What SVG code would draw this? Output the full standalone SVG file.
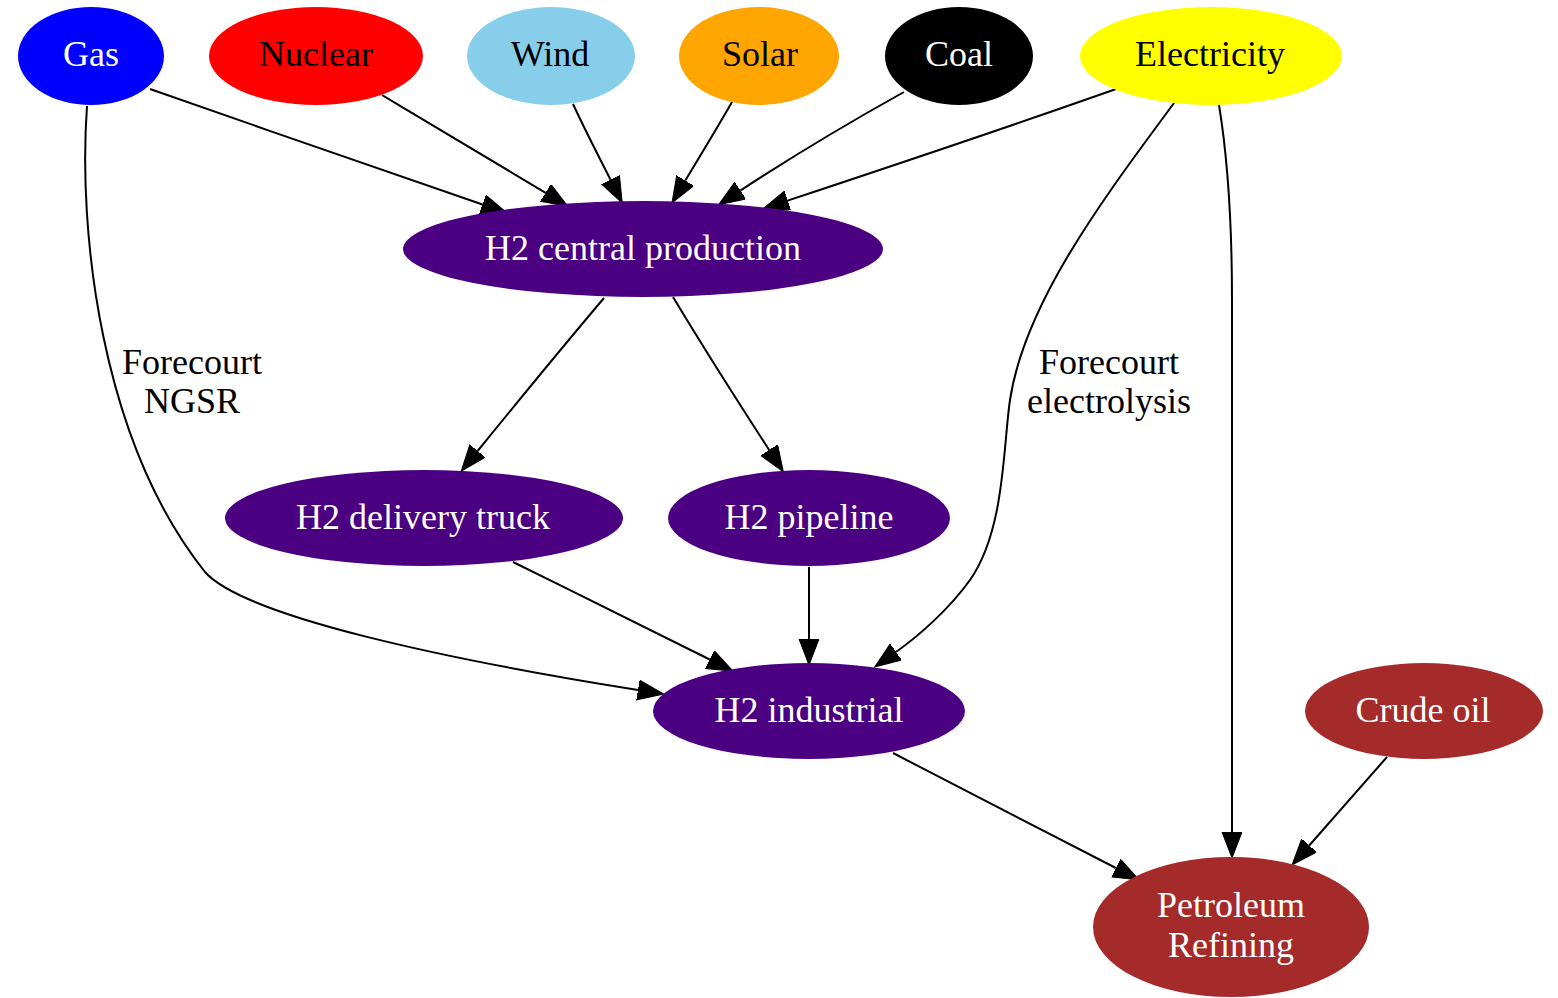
<svg xmlns="http://www.w3.org/2000/svg" width="1558" height="998" viewBox="0 0 1558 998">
<style>
text{font-family:'Liberation Serif','Times New Roman','DejaVu Serif',serif;font-size:36px;text-anchor:middle}
.w{fill:#ffffff}.k{fill:#000000}
.e{fill:none;stroke:#000;stroke-width:2;marker-end:url(#ah)}
</style>
<defs>
<marker id="ah" markerUnits="userSpaceOnUse" markerWidth="28" markerHeight="22" refX="0" refY="10" orient="auto" viewBox="0 0 28 22">
<path d="M0,0 L26,10 L0,20 z" fill="#000" stroke="#000" stroke-width="1"/>
</marker>
</defs>
<rect width="1558" height="998" fill="#ffffff"/>
<g id="connectors">
<path class="e" d="M150,89 C260,128 390,172 482.5,204.5"/>
<path class="e" d="M382,95 C440,130 500,165 545.6,192.8"/>
<path class="e" d="M573,104 C585,130 598,155 610.5,179.7"/>
<path class="e" d="M732,102 C716,130 700,156 685.3,180.6"/>
<path class="e" d="M904,92 C850,122 790,158 740.3,190.6"/>
<path class="e" d="M1116,89 C1000,130 880,170 787.6,200.6"/>
<path class="e" d="M604,298 C560,350 515,405 477.6,451"/>
<path class="e" d="M673,297 C705,350 740,405 769.2,450"/>
<path class="e" d="M513,562 C580,595 650,630 709.7,659.5"/>
<path class="e" d="M809,567 L809,639"/>
<path class="e" d="M1174,103 C1110,190 1025,300 1010,400 C1003,447 1005,530 970,580 C950,608 920,635 896,652"/>
<path class="e" d="M87,106 C78,230 100,440 205,572 C245,617 450,660 638,690"/>
<path class="e" d="M893,753 C970,793 1050,834 1115.9,868"/>
<path class="e" d="M1219,105 C1228,160 1232,220 1232,300 L1232,832"/>
<path class="e" d="M1387,757 L1309.2,845.5"/>
<text class="k" x="192" y="374">Forecourt</text>
<text class="k" x="192" y="413">NGSR</text>
<text class="k" x="1109" y="374">Forecourt</text>
<text class="k" x="1109" y="413">electrolysis</text>
</g>
<g id="gas"><ellipse cx="91" cy="56" rx="73" ry="49" fill="#0000ff"/><text class="w" x="91" y="66">Gas</text></g>
<g id="nuclear"><ellipse cx="316" cy="56" rx="107" ry="49" fill="#ff0000"/><text class="k" x="316" y="66">Nuclear</text></g>
<g id="wind"><ellipse cx="551" cy="56" rx="84" ry="49" fill="#87ceeb"/><text class="k" x="550" y="66">Wind</text></g>
<g id="solar"><ellipse cx="759" cy="56" rx="80" ry="49" fill="#ffa500"/><text class="k" x="760" y="66">Solar</text></g>
<g id="coal"><ellipse cx="959" cy="56" rx="74" ry="49" fill="#000000"/><text class="w" x="959" y="66">Coal</text></g>
<g id="electricity"><ellipse cx="1211" cy="56" rx="131" ry="49" fill="#ffff00"/><text class="k" x="1210" y="66">Electricity</text></g>
<g id="h2central"><ellipse cx="643" cy="249" rx="240" ry="48" fill="#4b0082"/><text class="w" x="643" y="260">H2 central production</text></g>
<g id="h2truck"><ellipse cx="424" cy="518" rx="199" ry="48" fill="#4b0082"/><text class="w" x="423" y="529">H2 delivery truck</text></g>
<g id="h2pipeline"><ellipse cx="809" cy="518" rx="141" ry="48" fill="#4b0082"/><text class="w" x="809" y="529">H2 pipeline</text></g>
<g id="h2industrial"><ellipse cx="809" cy="711" rx="156" ry="48" fill="#4b0082"/><text class="w" x="809" y="722">H2 industrial</text></g>
<g id="crudeoil"><ellipse cx="1424" cy="711" rx="119" ry="48" fill="#a52a2a"/><text class="w" x="1423" y="722">Crude oil</text></g>
<g id="petroleum"><ellipse cx="1231" cy="927" rx="138" ry="70" fill="#a52a2a"/><text class="w" x="1231" y="917">Petroleum</text><text class="w" x="1231" y="957">Refining</text></g>
</svg>
